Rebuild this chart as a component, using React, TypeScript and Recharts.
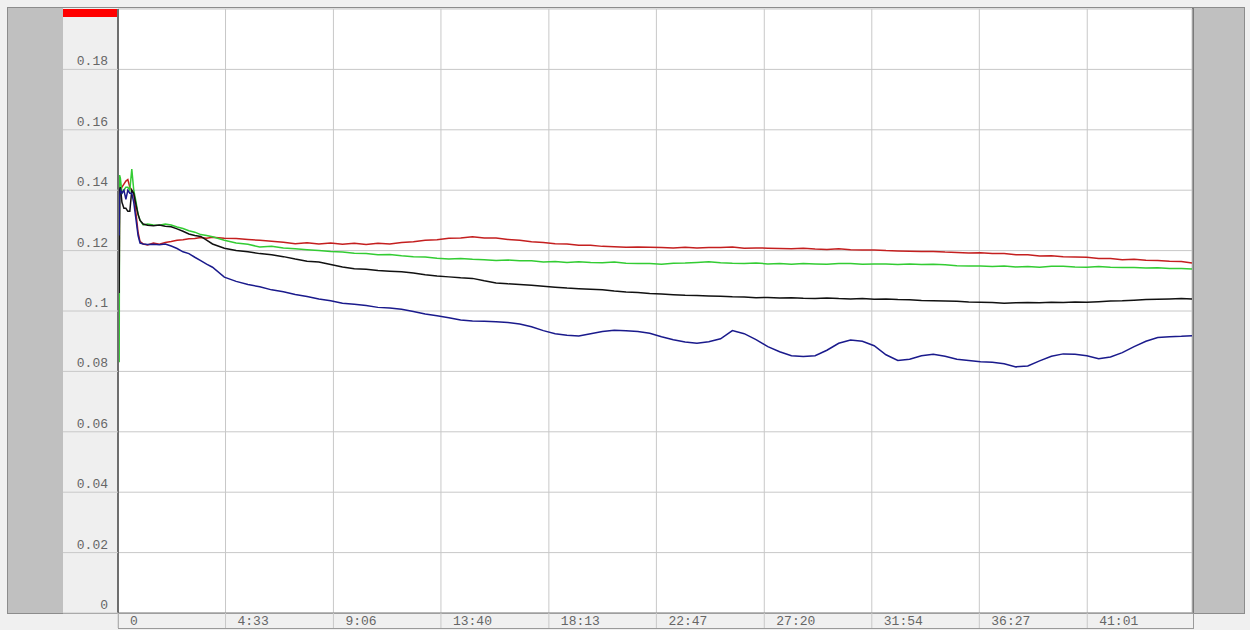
import React from 'react'
import { LineChart, Line, XAxis, YAxis, CartesianGrid } from 'recharts'

// seconds from start
const TIMES = [
  3, 4, 6, 10, 15, 20, 25, 30, 35, 40, 46, 51, 56, 64, 75, 90, 105, 120, 135, 150, 165, 180, 195, 210, 225,
  240, 270, 300, 330, 360, 390, 420, 450, 480, 510,
  540, 570, 600, 630, 660, 690, 720, 750, 780, 810,
  840, 870, 900, 930, 960, 990, 1020, 1050, 1080, 1110,
  1140, 1170, 1200, 1230, 1260, 1290, 1320, 1350, 1380, 1410,
  1440, 1470, 1500, 1530, 1560, 1590, 1620, 1650, 1680, 1710,
  1740, 1770, 1800, 1830, 1860, 1890, 1920, 1950, 1980, 2010,
  2040, 2070, 2100, 2130, 2160, 2190, 2220, 2250, 2280, 2310,
  2340, 2370, 2400, 2430, 2460, 2490, 2520, 2550, 2580, 2610,
  2640, 2670, 2700, 2727,
]

const RED = [
  0.110, 0.138, 0.140, 0.141, 0.142, 0.143, 0.1435, 0.141, 0.140, 0.139, 0.132, 0.126, 0.123, 0.1222, 0.1219, 0.1225, 0.1221, 0.1227, 0.1230, 0.1234, 0.1236, 0.1239, 0.1240, 0.1243, 0.1241,
  0.1244, 0.1241, 0.1240, 0.1237, 0.1234, 0.1231, 0.1228, 0.1223, 0.1226, 0.1222,
  0.1225, 0.1221, 0.1224, 0.1220, 0.1224, 0.1222, 0.1227, 0.1229, 0.1234, 0.1236,
  0.1241, 0.1242, 0.1246, 0.1242, 0.1242, 0.1237, 0.1234, 0.1229, 0.1227, 0.1223,
  0.1222, 0.1218, 0.1218, 0.1214, 0.1213, 0.1211, 0.1212, 0.1211, 0.1210, 0.1209,
  0.1211, 0.1209, 0.1210, 0.1210, 0.1212, 0.1208, 0.1209, 0.1208, 0.1207, 0.1206,
  0.1208, 0.1205, 0.1204, 0.1206, 0.1203, 0.1202, 0.1202, 0.1200, 0.1199, 0.1198,
  0.1197, 0.1197, 0.1195, 0.1194, 0.1192, 0.1193, 0.1190, 0.1190, 0.1186, 0.1186,
  0.1182, 0.1183, 0.1180, 0.1179, 0.1178, 0.1174, 0.1174, 0.1170, 0.1171, 0.1168,
  0.1167, 0.1165, 0.1164, 0.1159,
]

const GREEN = [
  0.083, 0.145, 0.144, 0.139, 0.140, 0.141, 0.141, 0.140, 0.147, 0.140, 0.136, 0.132, 0.130, 0.1285, 0.1288, 0.1285, 0.1284, 0.1288, 0.1285, 0.1278, 0.1273, 0.1266, 0.1261, 0.1253, 0.1250,
  0.1246, 0.1234, 0.1225, 0.1221, 0.1212, 0.1214, 0.1209, 0.1206, 0.1203, 0.1200,
  0.1197, 0.1195, 0.1191, 0.1190, 0.1186, 0.1187, 0.1183, 0.1180, 0.1179, 0.1175,
  0.1172, 0.1174, 0.1171, 0.1170, 0.1167, 0.1169, 0.1166, 0.1166, 0.1162, 0.1164,
  0.1161, 0.1163, 0.1161, 0.1160, 0.1162, 0.1158, 0.1157, 0.1157, 0.1155, 0.1158,
  0.1159, 0.1161, 0.1163, 0.1160, 0.1158, 0.1157, 0.1159, 0.1156, 0.1157, 0.1155,
  0.1157, 0.1156, 0.1155, 0.1157, 0.1157, 0.1155, 0.1156, 0.1156, 0.1154, 0.1156,
  0.1154, 0.1155, 0.1153, 0.1150, 0.1149, 0.1149, 0.1147, 0.1149, 0.1146, 0.1147,
  0.1145, 0.1148, 0.1148, 0.1146, 0.1145, 0.1147, 0.1145, 0.1144, 0.1144, 0.1142,
  0.1143, 0.1141, 0.1141, 0.1139,
]

const BLACK = [
  0.106, 0.140, 0.141, 0.136, 0.134, 0.134, 0.133, 0.133, 0.140, 0.139, 0.135, 0.132, 0.130, 0.1288, 0.1284, 0.1282, 0.1285, 0.1281, 0.1279, 0.1272, 0.1264, 0.1255, 0.1250, 0.1247, 0.1235,
  0.1222, 0.1208, 0.1200, 0.1196, 0.1190, 0.1186, 0.1180, 0.1172, 0.1165, 0.1162,
  0.1154, 0.1146, 0.1140, 0.1138, 0.1134, 0.1132, 0.1130, 0.1126, 0.1120, 0.1116,
  0.1113, 0.1110, 0.1108, 0.1100, 0.1093, 0.1090, 0.1088, 0.1085, 0.1082, 0.1079,
  0.1076, 0.1074, 0.1072, 0.1070, 0.1066, 0.1063, 0.1061, 0.1058, 0.1056, 0.1054,
  0.1052, 0.1051, 0.1050, 0.1049, 0.1047, 0.1046, 0.1044, 0.1045, 0.1043, 0.1044,
  0.1042, 0.1041, 0.1043, 0.1041, 0.1040, 0.1041, 0.1039, 0.1040, 0.1038, 0.1037,
  0.1035, 0.1034, 0.1033, 0.1032, 0.1030, 0.1029, 0.1028, 0.1026, 0.1027, 0.1028,
  0.1027, 0.1029, 0.1028, 0.1030, 0.1029, 0.1031, 0.1033, 0.1034, 0.1036, 0.1038,
  0.1039, 0.1040, 0.1041, 0.1040,
]

const BLUE = [
  0.125, 0.138, 0.140, 0.139, 0.140, 0.137, 0.140, 0.139, 0.139, 0.136, 0.130, 0.125, 0.1225, 0.1222, 0.1220, 0.1221, 0.1219, 0.1222, 0.1215, 0.1207, 0.1196, 0.1190, 0.1178, 0.1167, 0.1155,
  0.1145, 0.1112, 0.1098, 0.1088, 0.1080, 0.1070, 0.1064, 0.1055, 0.1048, 0.1040,
  0.1034, 0.1026, 0.1022, 0.1018, 0.1012, 0.1010, 0.1006, 0.0998, 0.0990, 0.0984,
  0.0978, 0.0970, 0.0967, 0.0966, 0.0964, 0.0962, 0.0957, 0.0948, 0.0935, 0.0925,
  0.0920, 0.0917, 0.0925, 0.0932, 0.0936, 0.0935, 0.0932, 0.0926, 0.0915, 0.0905,
  0.0897, 0.0893, 0.0898, 0.0908, 0.0935, 0.0925, 0.0905, 0.0882, 0.0865, 0.0852,
  0.0849, 0.0852, 0.0870, 0.0893, 0.0904, 0.0900, 0.0885, 0.0855, 0.0836, 0.0840,
  0.0852, 0.0857, 0.0850, 0.0840, 0.0836, 0.0832, 0.0830, 0.0825, 0.0815, 0.0818,
  0.0835, 0.0850, 0.0858, 0.0857, 0.0852, 0.0842, 0.0848, 0.0862, 0.0882, 0.0900,
  0.0912, 0.0915, 0.0916, 0.0918,
]

const X_TICKS = [0, 273, 547, 820, 1094, 1367, 1641, 1914, 2187, 2461]
const X_LABELS = ['0', '4:33', '9:06', '13:40', '18:13', '22:47', '27:20', '31:54', '36:27', '41:01']
const Y_TICKS = [0, 0.02, 0.04, 0.06, 0.08, 0.1, 0.12, 0.14, 0.16, 0.18]
const Y_LABELS = ['0', '0.02', '0.04', '0.06', '0.08', '0.1', '0.12', '0.14', '0.16', '0.18']

const data = TIMES.map((t, i) => ({
  t,
  red: RED[i],
  green: GREEN[i],
  black: BLACK[i],
  blue: BLUE[i],
}))

const FONT = "'Liberation Mono', 'Courier New', monospace"
const GRID = '#c8c8c8'
const LABEL = '#666'

function YTick(props: any) {
  const { x, y, payload } = props
  const label = Y_LABELS[Y_TICKS.indexOf(payload.value)]
  return (
    <g>
      <line x1={x - 55} x2={x} y1={y} y2={y} stroke={GRID} />
      <text x={x - 10} y={y - 4} textAnchor="end" fontFamily={FONT} fontSize={13} fill={LABEL}>
        {label}
      </text>
    </g>
  )
}

function XTick(props: any) {
  const { x, y, payload } = props
  const label = X_LABELS[X_TICKS.indexOf(payload.value)]
  return (
    <g>
      <line x1={x} x2={x} y1={y} y2={y + 15} stroke={GRID} />
      <text x={x + 12} y={y + 12} fontFamily={FONT} fontSize={13} fill={LABEL}>
        {label}
      </text>
    </g>
  )
}

const box = (s: React.CSSProperties): React.CSSProperties => ({ position: 'absolute', boxSizing: 'border-box', ...s })

export default function App() {
  return (
    <div style={{ position: 'fixed', left: 0, top: 0, width: 1250, height: 630, background: '#f0f0f0', overflow: 'hidden' }}>
      {/* left grey panel */}
      <div style={box({ left: 7, top: 7, width: 57, height: 607, background: '#c0c0c0', border: '1px solid #8c8c8c' })} />
      {/* y label column */}
      <div style={box({ left: 63, top: 7, width: 56, height: 607, background: '#efefef', borderTop: '1px solid #8c8c8c', borderBottom: '1px solid #8c8c8c' })} />
      {/* right grey panel */}
      <div style={box({ left: 1192, top: 7, width: 53, height: 607, background: '#c0c0c0', border: '1px solid #8c8c8c', borderLeft: '2px solid #7a7a7a' })} />
      {/* bottom axis band */}
      <div style={box({ left: 118, top: 613, width: 1076, height: 16, background: '#f0f0f0', border: '1px solid #9a9a9a' })} />
      {/* top border */}
      <div style={box({ left: 7, top: 7, width: 1238, height: 1, background: '#8c8c8c' })} />
      {/* red marker */}
      <div style={box({ left: 63, top: 9, width: 54, height: 8, background: '#ff0000' })} />

      <div style={{ position: 'absolute', left: 0, top: 0 }}>
        <LineChart width={1250} height={630} data={data} margin={{ top: 9, right: 58, bottom: 0, left: 63 }}>
          <CartesianGrid stroke={GRID} fill="#ffffff" fillOpacity={1} />
          <XAxis
            dataKey="t"
            type="number"
            domain={[0, 2727]}
            ticks={X_TICKS}
            interval={0}
            height={17}
            tickSize={0}
            tickMargin={0}
            tickLine={false}
            axisLine={{ stroke: '#8c8c8c' }}
            tick={(p: any) => <XTick {...p} />}
          />
          <YAxis
            type="number"
            domain={[0, 0.2]}
            ticks={Y_TICKS}
            interval={0}
            width={55}
            tickSize={0}
            tickMargin={0}
            tickLine={false}
            axisLine={{ stroke: '#6e6e6e', strokeWidth: 2 }}
            tick={(p: any) => <YTick {...p} />}
          />
          <Line dataKey="red" stroke="#c41f1f" strokeWidth={1.5} dot={false} isAnimationActive={false} />
          <Line dataKey="green" stroke="#33cc33" strokeWidth={1.5} dot={false} isAnimationActive={false} />
          <Line dataKey="black" stroke="#111111" strokeWidth={1.5} dot={false} isAnimationActive={false} />
          <Line dataKey="blue" stroke="#1a1a8c" strokeWidth={1.5} dot={false} isAnimationActive={false} />
        </LineChart>
      </div>
    </div>
  )
}
